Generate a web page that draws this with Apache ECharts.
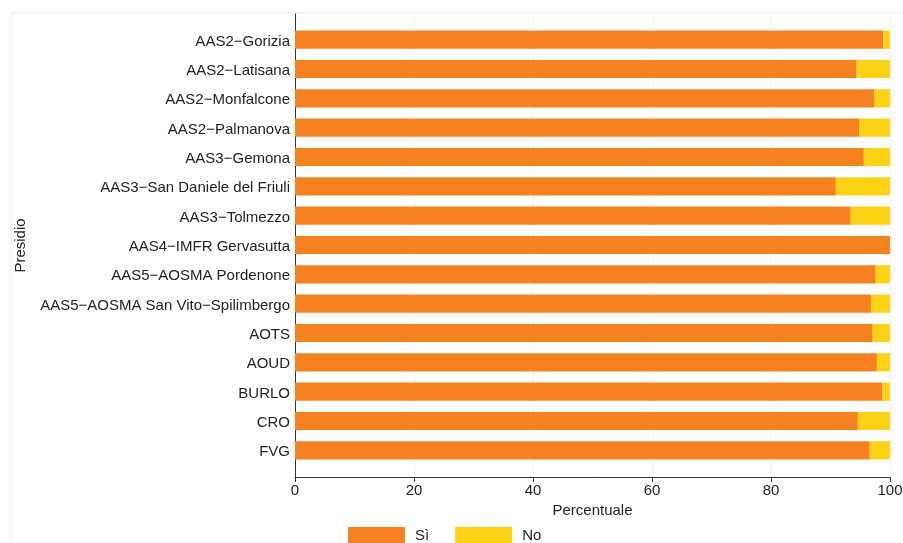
<!DOCTYPE html>
<html><head><meta charset="utf-8">
<script src="https://cdn.jsdelivr.net/npm/echarts@6/dist/echarts.min.js"></script>
<style>html,body{margin:0;padding:0;background:#fff}#c{width:903px;height:543px}</style>
</head><body><div id="c"></div>
<script>
const categories = ["AAS2−Gorizia","AAS2−Latisana","AAS2−Monfalcone","AAS2−Palmanova","AAS3−Gemona","AAS3−San Daniele del Friuli","AAS3−Tolmezzo","AAS4−IMFR Gervasutta","AAS5−AOSMA Pordenone","AAS5−AOSMA San Vito−Spilimbergo","AOTS","AOUD","BURLO","CRO","FVG"];
const si = [98.9,94.4,97.4,94.8,95.6,90.9,93.4,100,97.6,96.8,97.1,97.8,98.7,94.6,96.6];
const no = si.map(v => +(100 - v).toFixed(1));
const xTicks = [0,20,40,60,80,100];
const font = "'Liberation Sans', Arial, sans-serif";
const txt = '#222';
const chart = echarts.init(document.getElementById('c'));
chart.setOption({
  animation:false,
  textStyle:{fontFamily:font},
  graphic:[{type:'rect',shape:{x:11,y:13,width:900,height:540},style:{fill:'none',stroke:'#e6ecee',lineWidth:1},z:-10}],
  grid:[
    {left:295,right:13,top:14,bottom:66,outerBoundsMode:'none',containLabel:false},
    {left:295,right:13,top:25,bottom:78,outerBoundsMode:'none',containLabel:false}
  ],
  xAxis:[
    {gridIndex:0,type:'value',min:0,max:100,interval:20,
     axisLine:{show:true,lineStyle:{color:'#333'}},
     axisTick:{show:true,length:5,lineStyle:{color:'#333'}},
     axisLabel:{color:txt,fontSize:15,margin:6,fontFamily:font},
     splitLine:{show:true,lineStyle:{color:'#eef3f5'}},
     name:'Percentuale',nameLocation:'middle',nameGap:25,
     nameTextStyle:{color:txt,fontSize:15,fontFamily:font}},
    {gridIndex:1,type:'value',min:0,max:100,show:false}
  ],
  yAxis:[
    {gridIndex:0,type:'category',data:categories,inverse:true,
     axisLine:{show:true,lineStyle:{color:'#333'}},axisTick:{show:false},axisLabel:{show:false},splitLine:{show:false},
     name:'Presidio',nameLocation:'middle',nameGap:267,nameRotate:90,
     nameTextStyle:{color:txt,fontSize:15,fontFamily:font}},
    {gridIndex:1,type:'category',data:categories,inverse:true,
     axisLine:{show:false},axisTick:{show:false},
     axisLabel:{color:txt,fontSize:15,margin:5,fontFamily:font,
       formatter:v => '{a|' + v + '}',
       rich:{a:{color:txt,fontSize:15,fontFamily:font,padding:[4,0,0,0]}}}}
  ],
  legend:{bottom:-6,left:343,itemWidth:57,itemHeight:17,itemGap:26,padding:5,
    textStyle:{color:txt,fontSize:15,fontFamily:font,padding:[0,0,0,5]},icon:'rect',
    data:['Sì','No']},
  series:[
    {name:'Sì',type:'bar',stack:'s',xAxisIndex:1,yAxisIndex:1,data:si,barCategoryGap:'38%',
     itemStyle:{color:'#F68121'}},
    {name:'No',type:'bar',stack:'s',xAxisIndex:1,yAxisIndex:1,data:no,barCategoryGap:'38%',
     itemStyle:{color:'#FCD116'}}
  ]
});
</script></body></html>
